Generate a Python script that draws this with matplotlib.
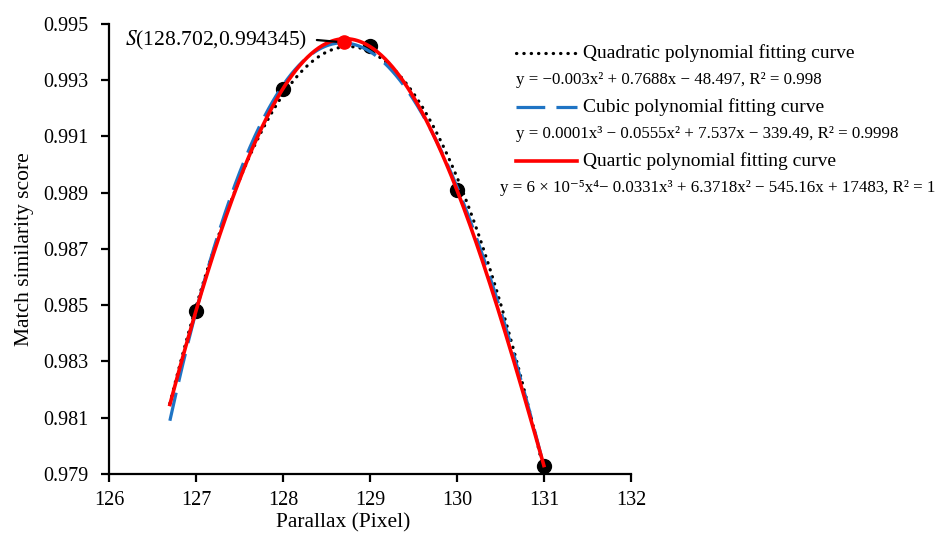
import numpy as np
import matplotlib.pyplot as plt
from matplotlib.lines import Line2D

plt.rcParams['font.family'] = ['Liberation Serif', 'DejaVu Serif']
plt.rcParams['mathtext.fontset'] = 'stix'

# measured points
parallax = [127, 128, 129, 130, 131]
score = [0.9848, 0.9927, 0.9942, 0.9891, 0.9793]

# peak of the quartic fit
peak_x = 128.702
peak_y = 0.994345

fit_range = (126.7, 131.0)

fit_names = ['Quadratic polynomial fitting curve',
             'Cubic polynomial fitting curve',
             'Quartic polynomial fitting curve']
fit_eqs = ['y = \u22120.003x\u00b2 + 0.7688x \u2212 48.497, R\u00b2 = 0.998',
           'y = 0.0001x\u00b3 \u2212 0.0555x\u00b2 + 7.537x \u2212 339.49, R\u00b2 = 0.9998',
           'y = 6 \u00d7 10\u207b\u2075x\u2074\u2212 0.0331x\u00b3 + 6.3718x\u00b2 \u2212 545.16x + 17483, R\u00b2 = 1']
fit_degrees = [2, 3, 4]

xticks = [126, 127, 128, 129, 130, 131, 132]
yticks = [0.979, 0.981, 0.983, 0.985, 0.987, 0.989, 0.991, 0.993, 0.995]

styles = [
    dict(color='black', lw=2.3, linestyle=(0, (0.1, 2.2)), dash_capstyle='round'),
    dict(color='#1f74c4', lw=2.3, linestyle=(0, (9, 3.5))),
    dict(color='#ff0000', lw=2.6, linestyle='-'),
]

fig = plt.figure(figsize=(9.42, 5.38), dpi=100)
ax = fig.add_axes([0.1157, 0.119, 0.554, 0.8364])

ax.scatter(parallax, score, s=100, color='black', zorder=2)

xs = np.linspace(fit_range[0], fit_range[1], 300)
for deg, st in zip(fit_degrees, styles):
    coef = np.polyfit(np.array(parallax) - 129, score, deg)
    ax.plot(xs, np.polyval(coef, xs - 129), zorder=3, **st)

ax.scatter([peak_x], [peak_y], s=90, color='#ff0000', zorder=4)
ax.annotate('', xy=(peak_x, peak_y), xytext=(128.39, 0.99443),
            arrowprops=dict(arrowstyle='-', color='black', lw=1.6,
                            shrinkA=0, shrinkB=3))
ax.text(128.28, 0.99440, '$\\mathit{S}$(128.702,0.994345)', fontsize=15.5,
        ha='right', va='center')

ax.set_xlim(126, 132)
ax.set_ylim(0.979, 0.995)
ax.set_xticks(xticks)
ax.set_yticks(yticks)
ax.set_yticklabels([f'{v:.3f}' for v in yticks])
ax.tick_params(labelsize=14.5, direction='out', length=6, width=1.6)
ax.tick_params(axis='y', pad=9)
ax.tick_params(axis='x', pad=6)
for side in ['top', 'right']:
    ax.spines[side].set_visible(False)
for side in ['left', 'bottom']:
    ax.spines[side].set_linewidth(1.6)
ax.set_xlabel('Parallax (Pixel)', fontsize=15.5)
ax.set_ylabel('Match similarity score', fontsize=15.5)
ax.xaxis.set_label_coords((343 - 109) / 522, -0.088)
ax.yaxis.set_label_coords(-0.143, 0.5)

# legend drawn by hand, with the equations under each entry
name_y = [53, 107, 161]
eq_y = [80, 134, 188]
eq_x = [516, 516, 500]
W, H = 942, 538
for i in range(3):
    fy = 1 - name_y[i] / H
    fig.add_artist(Line2D([516 / W, 577 / W], [fy, fy], transform=fig.transFigure, **styles[i]))
    fig.text(583 / W, fy, fit_names[i], fontsize=14, va='center', ha='left')
    fig.text(eq_x[i] / W, 1 - eq_y[i] / H, fit_eqs[i], fontsize=12.2, va='center', ha='left')

fig.savefig('out.png', dpi=100)
